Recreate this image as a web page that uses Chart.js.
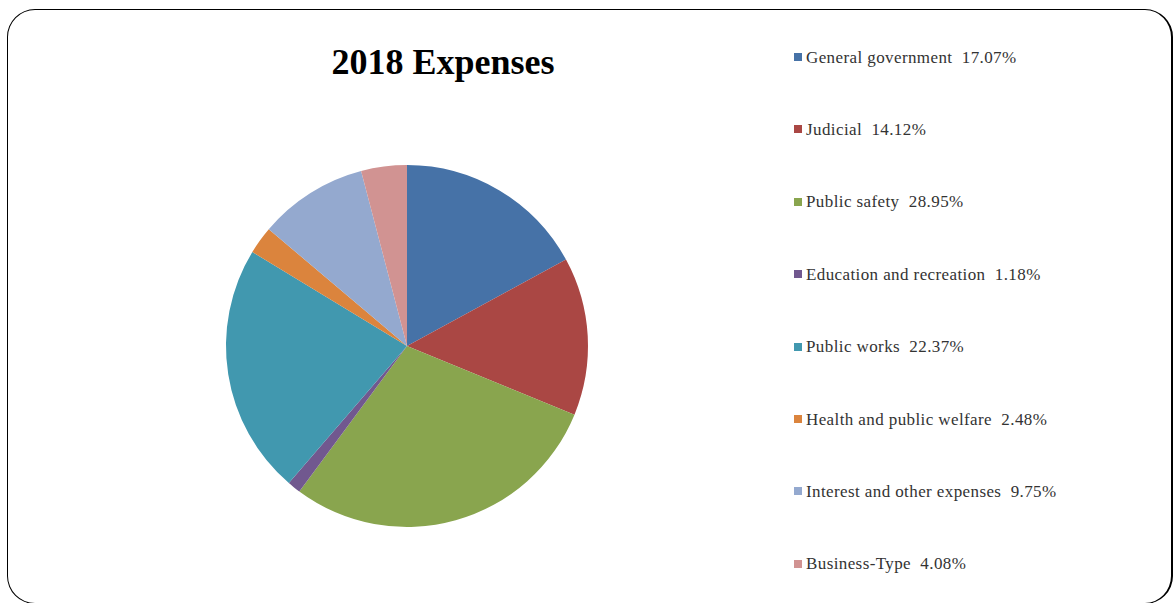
<!DOCTYPE html>
<html>
<head>
<meta charset="utf-8">
<title>2018 Expenses</title>
<script src="https://cdn.jsdelivr.net/npm/chart.js@4.4.1/dist/chart.umd.min.js"></script>
<style>
  html, body { margin: 0; padding: 0; background: #fff; }
  #frame {
    position: relative;
    width: 1174px;
    height: 603px;
    overflow: hidden;
  }
  #box {
    position: absolute;
    left: 7px;
    top: 9px;
    width: 1163px;
    height: 593px;
    border: 1px solid #000;
    border-right-width: 2px;
    border-radius: 28px;
  }
  #title {
    position: absolute;
    left: 0;
    top: 44px;
    width: 886px;
    text-align: center;
    font: bold 36px "Liberation Serif", "Times New Roman", serif;
    line-height: 36px;
    color: #000;
  }
  #pie_wrap {
    position: absolute;
    left: 207px;
    top: 146px;
    width: 400px;
    height: 400px;
  }
  .legend_item {
    position: absolute;
    left: 794px;
    height: 17px;
    display: flex;
    align-items: center;
    font: 17px "Liberation Serif", "Times New Roman", serif;
    line-height: 17px;
    letter-spacing: 0.4px;
    color: #333;
    white-space: pre;
  }
  .legend_box {
    width: 8px;
    height: 8px;
    margin-right: 4px;
    flex: none;
  }
</style>
</head>
<body>
<div id="frame">
  <div id="box"></div>
  <div id="title">2018 Expenses</div>
  <div id="pie_wrap"><canvas id="expense_pie_chart" width="400" height="400"></canvas></div>
  <div id="legend"></div>
</div>

<script>
// expense categories and their share of the total (percent)
const labels = ["General government", "Judicial", "Public safety", "Education and recreation",
  "Public works", "Health and public welfare", "Interest and other expenses", "Business-Type"]
const shares = [17.07, 14.12, 28.95, 1.18, 22.37, 2.48, 9.75, 4.08]
const colors = ["#4672a7", "#aa4744", "#89a54e", "#71588f", "#4198af", "#db843d", "#94a9cf", "#d19392"]

// legend rows on the right, one per category
function build_legend() {
  const legend = document.getElementById("legend")
  const first_row = 57
  const row_step = 72.4
  labels.forEach((label, i) => {
    const row = document.createElement("div")
    row.className = "legend_item"
    row.style.top = (first_row + i * row_step - 8.5) + "px"

    const swatch = document.createElement("span")
    swatch.className = "legend_box"
    swatch.style.background = colors[i]

    const text = document.createElement("span")
    text.textContent = label + "  " + shares[i].toFixed(2) + "%"

    row.appendChild(swatch)
    row.appendChild(text)
    legend.appendChild(row)
  })
}

build_legend()

// the pie itself, starting at 12 o'clock and going clockwise
const data_expense = {
  labels: labels,
  datasets: [{
    label: "Expenses by category",
    data: shares,
    backgroundColor: colors,
    borderWidth: 0
  }]
}

const expense_config = {
  type: "pie",
  data: data_expense,
  options: {
    responsive: false,
    animation: false,
    radius: 181,
    layout: { padding: 0 },
    plugins: {
      legend: { display: false },
      tooltip: { enabled: false },
      title: { display: false }
    }
  }
}

const myExpenseChart = new Chart(
  document.getElementById("expense_pie_chart"),
  expense_config
)
</script>
</body>
</html>
